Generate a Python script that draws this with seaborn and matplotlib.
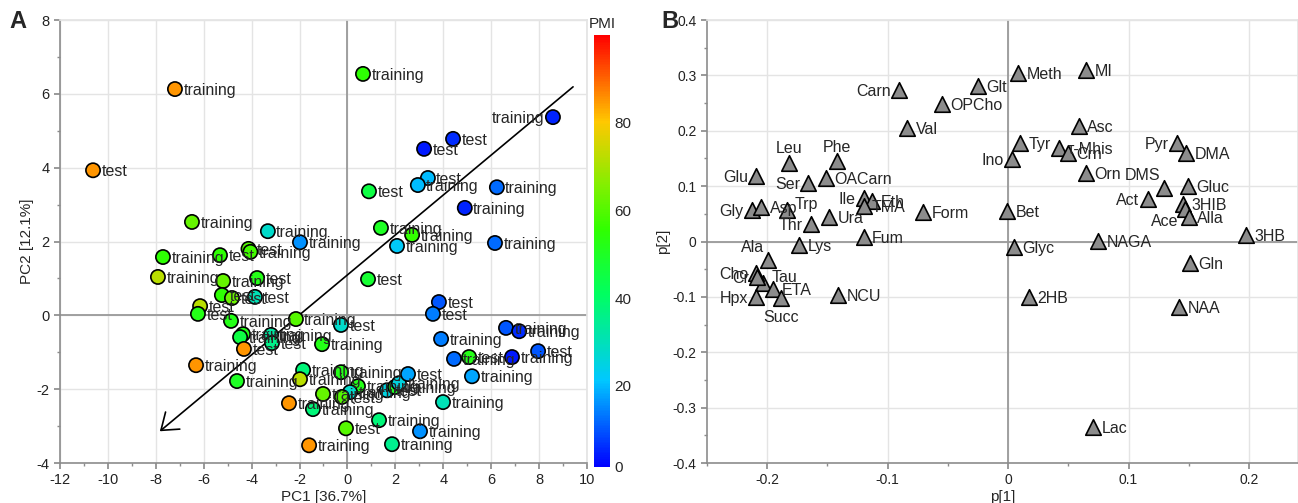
import numpy as np
import pandas as pd
import seaborn as sns
import matplotlib.pyplot as plt
from matplotlib.colors import LinearSegmentedColormap, Normalize
from matplotlib.cm import ScalarMappable
from matplotlib.ticker import MultipleLocator

# ---- panel A: PCA scores ----
pc1 = [-7.20, -10.62, 0.65, 8.58, 4.41, 3.20, 3.36, 2.94, 0.90, 6.24,
       4.90, 6.16, 1.40, 2.70, 2.07, 0.86, -6.49, -3.32, -1.98, -7.70,
       -5.32, -4.13, -4.05, -7.91, -5.19, -3.77, -5.24, -4.82, -3.86, -6.15,
       -6.24, -4.86, -2.15, -0.27, -4.36, -4.48, -3.19, -3.15, -1.06, -4.32,
       -6.32, -4.61, -1.85, -1.98, -0.27, -1.02, -1.44, -2.44, 0.44, 0.11,
       -0.23, 1.65, 1.99, 2.15, 2.53, 3.99, 1.32, -0.06, 3.03, -1.60,
       1.86, 3.82, 3.57, 3.91, 6.62, 7.17, 7.96, 6.87, 4.45, 5.08, 5.20]
pc2 = [6.13, 3.93, 6.54, 5.37, 4.78, 4.51, 3.72, 3.53, 3.36, 3.47,
       2.91, 1.96, 2.37, 2.18, 1.88, 0.98, 2.53, 2.28, 1.98, 1.58,
       1.63, 1.80, 1.72, 1.04, 0.93, 1.01, 0.55, 0.47, 0.50, 0.25,
       0.04, -0.15, -0.10, -0.26, -0.51, -0.59, -0.53, -0.75, -0.78, -0.91,
       -1.35, -1.78, -1.48, -1.73, -1.54, -2.13, -2.54, -2.38, -1.92, -2.08,
       -2.21, -2.03, -1.94, -1.84, -1.59, -2.35, -2.84, -3.06, -3.14, -3.52,
       -3.49, 0.36, 0.04, -0.64, -0.34, -0.43, -0.97, -1.13, -1.18, -1.13, -1.65]
pmi = [85, 85, 55, 5, 6, 4, 20, 20, 45, 12,
       5, 12, 50, 56, 22, 48, 62, 28, 16, 55,
       55, 60, 58, 72, 62, 52, 55, 63, 30, 72,
       52, 52, 60, 28, 52, 45, 33, 36, 52, 85,
       85, 50, 38, 72, 52, 62, 38, 85, 52, 28,
       60, 25, 50, 25, 18, 30, 38, 60, 16, 85,
       35, 10, 14, 14, 10, 6, 10, 4, 12, 52, 18]
sample_set = ["training", "test", "training", "training", "test", "test", "test", "training", "test", "training",
              "training", "training", "training", "training", "training", "test", "training", "training", "training", "training",
              "test", "test", "training", "training", "training", "test", "test", "test", "test", "test",
              "test", "training", "training", "test", "training", "training", "training", "test", "training", "test",
              "training", "training", "training", "training", "training", "training", "training", "training", "training", "training",
              "test", "test", "training", "training", "test", "training", "training", "test", "training", "training",
              "training", "test", "test", "training", "training", "training", "test", "training", "training", "test", "training"]

# ---- panel B: loadings ----
metabolites = ["Carn", "OPCho", "Val", "Leu", "Phe", "Glu", "Ser", "OACarn", "Ile", "Eth",
               "TMA", "Form", "Gly", "Asp", "Trp", "Thr", "Ura", "Fum", "Lys", "Ala",
               "Tau", "Cho", "Cr", "ETA", "Hpx", "Succ", "NCU", "Glt", "Meth", "MI",
               "Asc", "Tyr", "Ino", "τ-Mhis", "Crn", "Orn", "DMS", "Pyr", "DMA", "Gluc",
               "Act", "3HIB", "Ace", "Alla", "Bet", "3HB", "NAGA", "Glyc", "Gln", "2HB",
               "NAA", "Lac"]
p1 = [-0.0905, -0.0548, -0.0838, -0.1817, -0.1420, -0.2090, -0.1660, -0.1510, -0.1200, -0.1130,
      -0.1200, -0.0705, -0.2130, -0.2050, -0.1840, -0.1635, -0.1485, -0.1200, -0.1734, -0.1990,
      -0.2033, -0.2090, -0.2083, -0.1950, -0.2090, -0.1884, -0.1410, -0.0249, 0.0083, 0.0647,
      0.0589, 0.0100, 0.0033, 0.0423, 0.0498, 0.0647, 0.1295, 0.1400, 0.1477, 0.1490,
      0.1160, 0.1452, 0.1469, 0.1502, -0.0008, 0.1975, 0.0747, 0.0050, 0.1510, 0.0174,
      0.1420, 0.0705]
p2 = [0.274, 0.248, 0.205, 0.142, 0.145, 0.118, 0.106, 0.115, 0.078, 0.073,
      0.064, 0.053, 0.057, 0.062, 0.057, 0.032, 0.044, 0.008, -0.006, -0.033,
      -0.075, -0.057, -0.064, -0.086, -0.100, -0.102, -0.097, 0.281, 0.304, 0.310,
      0.209, 0.178, 0.149, 0.169, 0.160, 0.124, 0.097, 0.178, 0.160, 0.100,
      0.077, 0.068, 0.059, 0.044, 0.055, 0.012, 0.001, -0.010, -0.039, -0.100,
      -0.118, -0.335]

df_a = pd.DataFrame({"PC1": pc1, "PC2": pc2, "PMI": pmi, "set": sample_set})
df_b = pd.DataFrame({"p1": p1, "p2": p2, "name": metabolites})

sns.set_theme(style="white")
plt.rcParams["font.family"] = ["Liberation Sans", "DejaVu Sans"]
plt.rcParams["axes.unicode_minus"] = False

cmap = LinearSegmentedColormap.from_list(
    "pmi", [(0.0, "#0000ff"), (0.2, "#00c8ff"), (0.4, "#00ff60"),
            (0.55, "#30ff00"), (0.65, "#80f000"), (0.8, "#ffc800"), (1.0, "#ff0000")])
norm = Normalize(1.5, 100)

grid_c = "#e4e4e4"
spine_c = "#8c8c8c"


def style_axes(ax, tick_size):
    ax.grid(True, color=grid_c, lw=1)
    ax.set_axisbelow(True)
    for s in ["top", "right"]:
        ax.spines[s].set_color(grid_c)
    for s in ["left", "bottom"]:
        ax.spines[s].set_color(spine_c)
        ax.spines[s].set_linewidth(1.2)
    ax.tick_params(which="both", direction="out", color=spine_c, labelsize=tick_size,
                   labelcolor="#222222", left=True, bottom=True)
    ax.tick_params(which="major", length=4)
    ax.tick_params(which="minor", length=2.5)
    ax.axhline(0, color="#999999", lw=1.3, zorder=1)
    ax.axvline(0, color="#999999", lw=1.3, zorder=1)


fig = plt.figure(figsize=(12.98, 5.03), dpi=100)
axA = fig.add_axes([0.0462, 0.0795, 0.4060, 0.8807])
cax = fig.add_axes([0.4576, 0.0716, 0.0124, 0.8588])
axB = fig.add_axes([0.5447, 0.0795, 0.4553, 0.8807])

# panel A
style_axes(axA, 10.5)
sns.scatterplot(data=df_a, x="PC1", y="PC2", hue="PMI", palette=cmap, hue_norm=norm,
                s=105, edgecolor="black", linewidth=1.2, legend=False, ax=axA, zorder=3)
for i, row in df_a.iterrows():
    if i == 3:
        axA.annotate(row["set"], (row["PC1"], row["PC2"]), xytext=(-6, -1),
                     textcoords="offset points", ha="right", va="center", fontsize=11.5, zorder=4)
    else:
        axA.annotate(row["set"], (row["PC1"], row["PC2"]), xytext=(6, -1),
                     textcoords="offset points", ha="left", va="center", fontsize=11.5, zorder=4)
axA.annotate("", xy=(-7.83, -3.14), xytext=(9.42, 6.19),
             arrowprops=dict(arrowstyle="->,head_length=0.55,head_width=0.4", color="black",
                             lw=1.2, mutation_scale=20, shrinkA=0, shrinkB=0), zorder=2)
axA.set_xlim(-12, 10)
axA.set_ylim(-4, 8)
axA.xaxis.set_major_locator(MultipleLocator(2))
axA.xaxis.set_minor_locator(MultipleLocator(1))
axA.yaxis.set_major_locator(MultipleLocator(2))
axA.yaxis.set_minor_locator(MultipleLocator(1))
axA.set_xlabel("PC1 [36.7%]", fontsize=11, labelpad=2)
axA.set_ylabel("PC2 [12.1%]", fontsize=11, labelpad=2)

# colorbar
cb = fig.colorbar(ScalarMappable(norm=norm, cmap=cmap), cax=cax, ticks=[1.5, 20, 40, 60, 80])
cb.ax.set_yticklabels(["0", "20", "40", "60", "80"])
cb.outline.set_visible(False)
cax.tick_params(length=0, labelsize=11, pad=3)
cax.set_title("PMI", fontsize=11, pad=5)

# panel B
style_axes(axB, 10)
sns.scatterplot(data=df_b, x="p1", y="p2", marker="^", s=125, color="#8c8c8c",
                edgecolor="black", linewidth=1.2, ax=axB, zorder=3)
side = {"Carn": "left", "Leu": "above", "Phe": "above", "Glu": "left", "Ser": "left",
        "Ile": "left", "Gly": "left", "Trp": "upright", "Thr": "left", "Ala": "upleft",
        "Tau": "upright", "Cho": "left", "Cr": "left", "Hpx": "left", "Succ": "below",
        "Ino": "left", "DMS": "upleft", "Pyr": "left", "Act": "left", "Ace": "downleft"}
place = {"right": ((6, -1), "left", "center"), "left": ((-6, -1), "right", "center"),
         "above": ((0, 10), "center", "center"), "below": ((0, -14), "center", "center"),
         "upright": ((6, 4), "left", "center"), "upleft": ((-3, 9), "right", "center"),
         "downleft": ((-5, -9), "right", "center")}
for _, row in df_b.iterrows():
    off, ha, va = place[side.get(row["name"], "right")]
    axB.annotate(row["name"], (row["p1"], row["p2"]), xytext=off, textcoords="offset points",
                 ha=ha, va=va, fontsize=11.5, zorder=4)
axB.set_xlim(-0.25, 0.2407)
axB.set_ylim(-0.4, 0.4)
axB.xaxis.set_major_locator(MultipleLocator(0.1))
axB.xaxis.set_minor_locator(MultipleLocator(0.05))
axB.yaxis.set_major_locator(MultipleLocator(0.1))
axB.yaxis.set_minor_locator(MultipleLocator(0.05))
axB.xaxis.set_major_formatter(lambda v, p: "0" if abs(v) < 1e-9 else f"{v:.1f}")
axB.yaxis.set_major_formatter(lambda v, p: "0" if abs(v) < 1e-9 else f"{v:.1f}")
axB.set_xlabel("p[1]", fontsize=11, labelpad=2)
axB.set_ylabel("p[2]", fontsize=11, labelpad=2)

fig.text(0.0139, 0.958, "A", fontsize=17, fontweight="bold", va="center", ha="center")
fig.text(0.5160, 0.958, "B", fontsize=17, fontweight="bold", va="center", ha="center")

fig.savefig("out.png", dpi=100)
